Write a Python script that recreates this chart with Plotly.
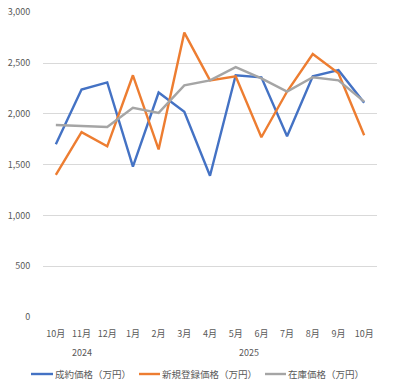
import plotly.graph_objects as go

months = ["10月", "11月", "12月", "1月", "2月", "3月", "4月", "5月", "6月", "7月", "8月", "9月", "10月"]
years = ["2024", "2025"]
year_centers = [1, 7.5]
contract = [1700, 2240, 2310, 1480, 2210, 2020, 1390, 2380, 2360, 1780, 2370, 2430, 2110]
new_listing = [1400, 1820, 1680, 2380, 1650, 2800, 2330, 2370, 1770, 2220, 2590, 2400, 1790]
inventory = [1890, 1880, 1870, 2060, 2010, 2280, 2330, 2460, 2350, 2220, 2360, 2330, 2120]
names = ["成約価格（万円）", "新規登録価格（万円）", "在庫価格（万円）"]
colors = ["#4472C4", "#ED7D31", "#A5A5A5"]

W, H = 395, 389
ML, MR, MT, MB = 43, 18, 12, 72
PW, PH = W - ML - MR, H - MT - MB

idx = list(range(len(months)))
fig = go.Figure()
for ys, n, c in zip([contract, new_listing, inventory], names, colors):
    fig.add_trace(go.Scatter(x=idx, y=ys, name=n, mode="lines",
                             line=dict(color=c, width=2.4), showlegend=False,
                             hoverinfo="skip"))

font = dict(family="Noto Sans CJK JP, Noto Sans, sans-serif", size=9, color="#595959")
fig.update_layout(
    width=W, height=H,
    margin=dict(l=ML, r=MR, t=MT, b=MB, autoexpand=False),
    paper_bgcolor="white", plot_bgcolor="white",
    font=font,
    showlegend=False,
    xaxis=dict(range=[-0.5, 12.5], tickmode="array", tickvals=idx, ticktext=months,
               showgrid=False, zeroline=False, showline=False, automargin=False,
               ticks="outside", ticklen=8, tickcolor="rgba(0,0,0,0)", fixedrange=True),
    yaxis=dict(range=[0, 3003], tickmode="linear", tick0=0, dtick=500, tickformat=",",
               showgrid=True, automargin=False,
               gridcolor="#D9D9D9", gridwidth=1, zeroline=False, showline=False,
               ticks="outside", ticklen=10, tickcolor="rgba(0,0,0,0)", fixedrange=True),
)
for yr, xc in zip(years, year_centers):
    fig.add_annotation(x=xc, xref="x", y=-0.118, yref="paper", text=yr,
                       showarrow=False, yanchor="middle", font=dict(size=9, color="#595959"))

# legend (key drawn as short line samples with text labels)
leg_y = (MT + PH - 374) / PH
leg_items = [(31, 53, 55), (139, 160, 162), (265, 286, 288)]
for (x0, x1, xt), n, c in zip(leg_items, names, colors):
    fig.add_shape(type="line", xref="paper", yref="paper",
                  x0=(x0 - ML) / PW, x1=(x1 - ML) / PW, y0=leg_y, y1=leg_y,
                  line=dict(color=c, width=2.4))
    fig.add_annotation(x=(xt - ML) / PW, xref="paper", y=leg_y, yref="paper", text=n,
                       showarrow=False, xanchor="left", yanchor="middle",
                       font=dict(size=9.5, color="#595959"), xshift=-2)

fig.write_html("out.html", config={"displayModeBar": False},
               post_script="document.body.style.margin='0';")
